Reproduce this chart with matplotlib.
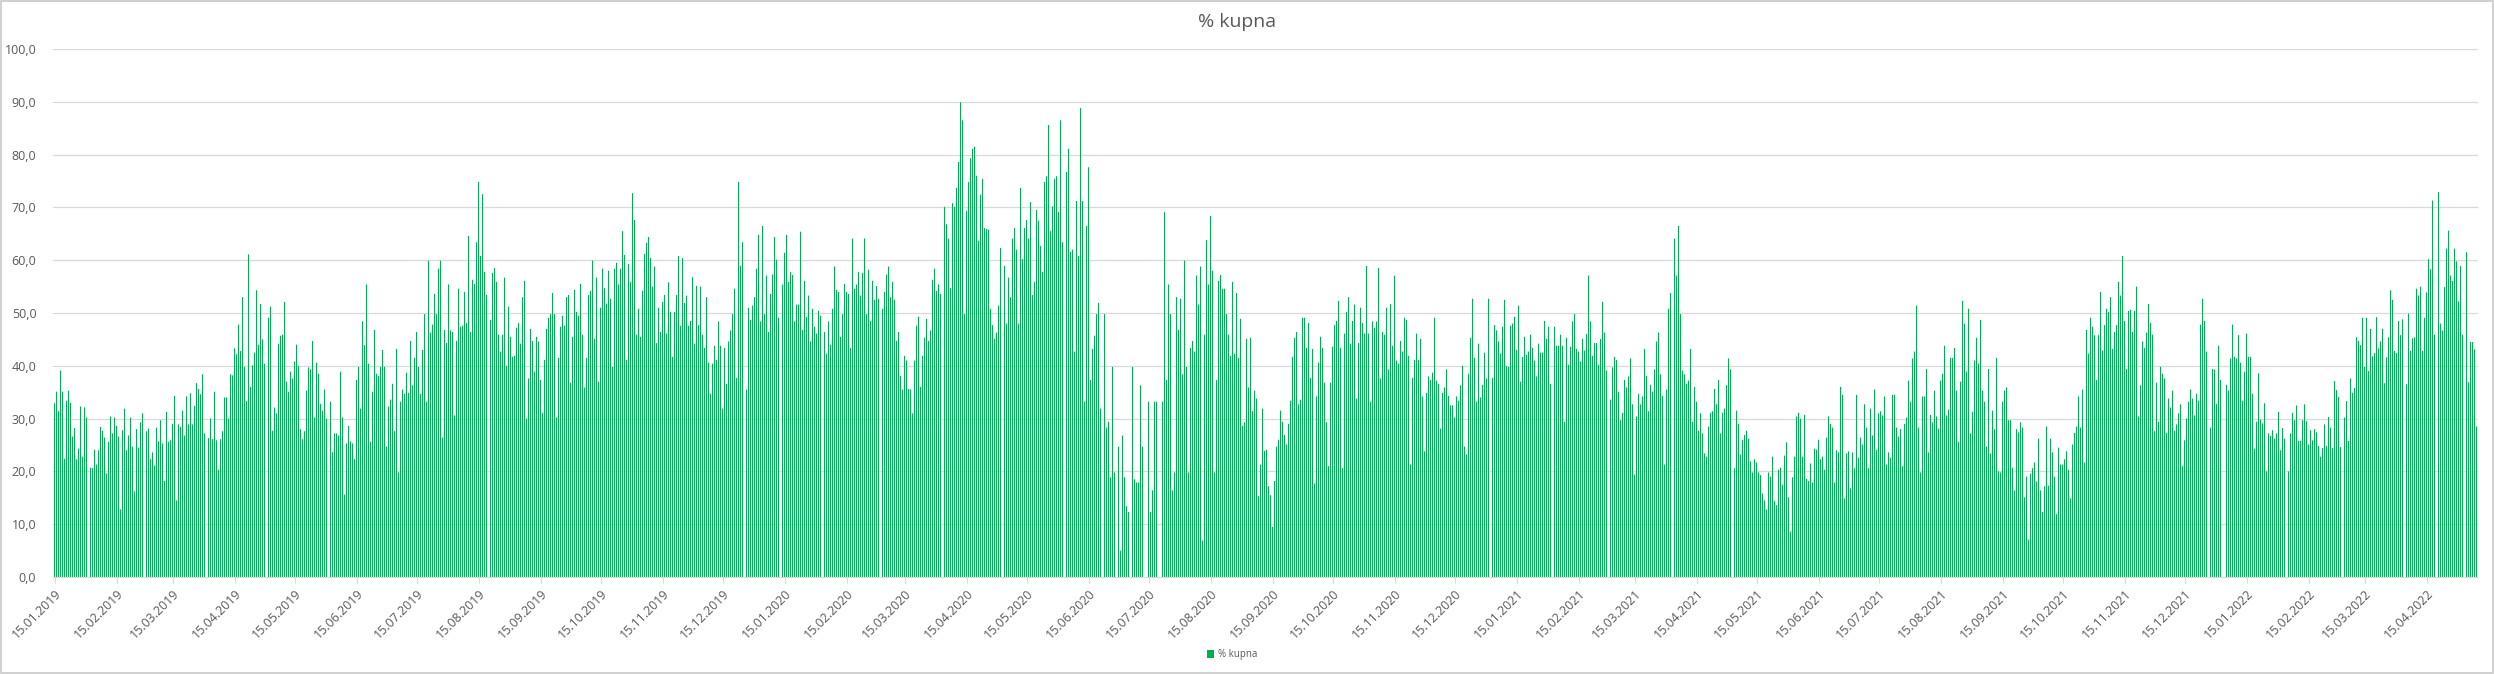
import numpy as np
import pandas as pd
import matplotlib
matplotlib.use("Agg")
import matplotlib.pyplot as plt
from matplotlib.patches import Rectangle
from matplotlib.ticker import FuncFormatter

plt.rcParams["font.family"] = ["Open Sans", "DejaVu Sans"]

nan = np.nan
GREEN = "#00B050"; GRID = "#d9d9d9"; TXT = "#595959"

# daily "% kupna" from 15.01.2019; nan = day without a bar
seg01 = [32.9, 35.1, 31.4, 39.1, 35.1, 22.4, 33.4, 35.3, 33.0, 26.6, 28.2, 22.3, 24.3, 32.3, 22.8, 32.1, 30.2, nan,
         20.7, 20.6, 24.1, 21.3, 24.0, 28.4, 27.7, 26.4, 19.6, 25.6, 30.4, 27.2, 30.2, 28.6, 26.6, 12.8, 27.8, 31.9,
         24.0, 26.8, 30.2, 24.7, 16.2, 28.0, 24.5, 29.3, 31.0, nan,
         27.6, 28.1, 22.3, 23.6, 21.1, 28.3, 25.7, 29.7, 25.3, 18.2, 31.3, 25.6, 25.9, 29.0, 34.3, 14.5, 28.9, 28.4,
         31.5, 26.8, 34.2, 28.9, 34.8, 28.9, 32.4, 36.7, 35.6, 34.6, 38.4, 27.2, nan,
         26.3, 30.0, 26.1, 35.1, 25.9, 20.3, 26.1, 27.6, 34.0, 34.0, 30.0, 38.4, 38.2, 43.3, 42.2, 47.8, 42.8, 53.0,
         39.8, 33.3, 61.1, 36.0, 40.1, 42.5, 54.3, 44.0]
seg02 = [51.7, 45.0, 40.4, nan, 49.1, 51.2, 27.7, 32.1, 31.0, 44.2, 45.7, 45.9, 52.1, 37.0, 35.1, 38.9, 37.6, 40.8,
         44.0, 40.0, 28.0, 26.1, 27.6, 35.3, 39.7, 39.3, 44.7, 30.2, 40.6, 38.5, 32.8, 31.5, 35.5, 30.0, nan, 33.2,
         23.6, 27.2, 27.2, 26.8, 38.9, 30.2, 15.6, 25.3, 28.6, 25.7, 25.3, 22.3, 37.3, 39.8, 31.9, 48.4, 43.9, 55.4,
         40.4, 25.6, 35.1, 46.8, 38.5, 38.1, 39.8, 43.0, 39.8, 24.7, 32.3, 33.6, 36.6, 27.6, 43.2, 19.8, 33.2, 35.5,
         34.7, 38.7, 34.9, 44.7, 36.3, 41.5, 46.4, 39.8, 34.7, 43.0, 49.8, 33.2, 59.9, 46.3, 47.8, 53.6, 49.8, 58.4,
         59.9, 26.4, 46.8, 44.3, 55.4, 46.7, 46.4, 30.6, 44.7, 54.6]
seg03 = [47.4, 47.6, 54.0, 48.1, 64.6, 46.4, 56.3, 55.5, 63.4, 74.8, 60.8, 72.5, 57.8, 53.4, nan, 48.7, 57.6, 58.5,
         55.9, 45.9, 42.7, 45.9, 56.7, 40.0, 51.2, 45.5, 41.7, 41.9, 47.2, 48.1, 44.2, 53.0, 56.1, 30.0, 37.6, 47.0,
         44.7, 38.9, 45.5, 44.6, 37.3, 31.1, 41.1, 47.0, 49.1, 49.8, 53.8, 49.8, 30.2, 41.5, 47.4, 49.5, 47.6, 53.0,
         53.4, 36.8, 45.5, 54.4, 50.2, 49.5, 55.5, 45.9, 35.9, 41.5, 53.4, 54.2, 59.9, 45.1, 56.7, 37.0, 51.0, 58.4,
         54.7, 51.8, 58.0, 52.7, 39.8, 58.4, 59.5, 55.4, 58.4, 65.5, 61.0, 41.1, 59.3, 55.9, 72.7, 67.6, 45.9, 50.8,
         45.5, 54.2, 61.2, 63.3, 64.4, 60.4, 55.0, 58.8, 44.3, 51.0]
seg04 = [46.4, 52.1, 53.4, 46.1, 55.8, 50.2, 41.7, 50.2, 53.4, 60.8, 47.6, 60.4, 51.9, 53.3, 47.6, 48.5, 56.8, 44.2,
         55.1, 47.7, 55.0, 45.9, 43.4, 53.0, 40.6, 34.7, 40.4, 43.8, 41.1, 48.4, 43.8, 31.9, 43.4, 36.6, 44.6, 46.7,
         49.8, 54.6, 37.7, 74.8, 58.9, 63.4, nan, 35.5, 51.0, 48.7, 51.4, 53.0, 58.4, 64.8, 48.4, 66.5, 49.8, 57.1,
         46.4, 53.6, 57.3, 64.4, 60.1, 49.1, nan, 55.4, 61.4, 64.8, 55.9, 57.8, 57.2, 48.4, 51.6, 51.6, 65.4, 46.8,
         56.1, 49.3, 53.3, 44.6, 50.8, 47.4, 46.1, 50.4, 49.5, nan, 46.4, 42.3, 48.4, 44.0, 50.8, 58.8, 54.4, 54.0,
         45.5, 49.8, 55.5, 54.0, 53.6, 43.4, 64.1, 54.6, 55.4, 57.8, 53.3]
seg05 = [57.6, 64.1, 49.8, 58.2, 48.5, 56.1, 52.5, 55.1, 52.7, nan, 50.8, 54.0, 57.3, 58.8, 53.0, 55.9, 52.5, 44.7,
         46.4, 38.1, 35.5, 41.9, 41.0, 35.6, 35.5, 31.0, 41.0, 47.6, 49.3, 36.0, 41.9, 45.3, 48.9, 44.7, 46.7, 56.3,
         58.4, 54.2, 55.4, 53.6, nan, 70.1, 66.8, 64.1, 54.7, 70.8, 70.1, 73.7, 78.6, 89.9, 86.5, 49.8, 69.3, 74.8,
         79.3, 81.1, 81.5, 76.0, 63.7, 72.4, 75.4, 66.1, 65.9, 65.8, 50.8, 47.7, 45.1, 46.3, 51.4, 62.3, nan, 58.9,
         48.0, 56.7, 53.0, 64.1, 66.1, 62.0, 48.0, 73.7, 60.2, 66.1, 67.6, 64.1, 71.0, 53.4, 55.9, 69.5, 67.5, 62.7,
         57.8, 74.8, 75.9, 85.6, 65.5, 70.2, 75.4, 75.9, 69.1, 86.5]
seg06 = [63.4, nan, 76.7, 81.1, 61.6, 62.0, 42.7, 71.2, 60.8, 88.8, 71.2, 33.2, 66.5, 77.6, 37.3, 43.2, 45.7, 49.8,
         51.9, 31.9, nan, 49.8, 28.3, 29.4, 18.9, 39.8, 19.8, nan, 24.7, 5.0, 26.8, 18.9, 13.4, 12.3, nan, 39.8,
         18.5, 17.9, 17.9, 36.3, 24.7, nan, nan, 33.2, 12.3, 16.4, 33.2, 33.2, nan, nan, 33.2, 69.1, 37.3, 55.4,
         49.8, 16.4, 19.8, 53.0, 46.8, 52.7, 38.4, 59.9, 39.8, 19.8, 43.4, 44.7, 42.7, 57.1, 51.6, 58.8, 6.9, 45.9,
         63.8, 55.4, 68.4, 58.0, 19.8, 37.3, 56.1, 57.2, 54.6, 54.6, 49.8, 45.9, 41.9, 55.9, 42.3, 53.8, 41.5, 48.9,
         28.6, 29.3, 45.1, 35.9, 45.3, 31.4, 35.3, 33.8, 15.3, 21.3]
seg07 = [31.9, 23.9, 24.1, 17.2, 15.5, 9.5, 18.2, 24.7, 26.0, 31.5, 29.4, 26.9, 25.1, 29.0, 33.4, 41.7, 45.3, 46.4,
         32.7, 33.6, 49.1, 49.1, 43.4, 48.1, 37.7, 43.2, 17.7, 34.2, 40.6, 45.5, 43.4, 36.8, 29.3, 21.0, 36.8, 43.6,
         47.7, 48.5, 52.3, 43.4, 20.6, 46.1, 50.2, 53.0, 44.2, 48.5, 51.6, 33.8, 44.3, 51.0, 48.1, 46.1, 58.9, 46.1,
         33.2, 48.4, 47.2, 48.4, 58.5, 37.6, 46.4, 45.9, 51.0, 39.3, 51.7, 43.8, 57.1, 41.0, 40.4, 44.7, 42.7, 49.1,
         48.7, 41.9, 21.3, 37.7, 41.1, 46.1, 41.1, 45.1, 34.2, 23.8, 34.9, 38.0, 37.3, 38.7, 49.1, 37.2, 36.6, 28.1,
         34.9, 35.9, 39.3, 34.3, 32.5, 32.5, 30.2, 34.2]
seg08 = [33.4, 36.3, 40.0, 24.7, 23.2, 38.5, 45.3, 52.7, 41.5, 33.2, 44.2, 34.0, 36.4, 42.5, 37.6, 52.7, nan, 37.7,
         47.7, 46.7, 44.6, 42.3, 47.4, 52.5, 40.0, 39.8, 47.6, 48.0, 49.3, 43.0, 51.4, 37.0, 41.7, 45.5, 42.1, 42.7,
         45.9, 43.4, 41.0, 38.0, 44.2, 42.5, 42.5, 48.5, 45.1, 47.4, 36.6, nan, 47.4, 43.8, 43.8, 45.9, 43.8, 29.4,
         45.3, 40.2, 43.6, 48.4, 49.8, 43.2, 42.7, 40.8, 45.1, 42.9, 46.0, 57.1, 48.4, 41.9, 44.3, 44.3, 40.2, 45.1,
         52.1, 46.3, 39.1, nan, 33.6, 39.7, 41.7, 41.1, 35.1, 29.7, 31.1, 37.3, 35.9, 38.0, 41.4, 32.7, 19.4, 30.4,
         34.7, 32.7, 34.2, 43.2, 38.1, 31.4, 36.4, 35.1, 39.3, 44.6]
seg09 = [46.3, 38.4, 34.3, 21.3, 35.5, 50.8, 53.8, nan, 64.1, 57.1, 66.5, 49.8, 39.1, 38.4, 36.6, 37.2, 43.2, 29.4,
         36.0, 33.2, 27.7, 31.0, 27.2, 23.4, 22.8, 28.5, 31.1, 31.4, 35.6, 32.7, 37.3, 27.2, 31.1, 31.9, 36.3, 41.4,
         39.3, nan, 20.6, 31.5, 29.0, 23.2, 26.0, 26.9, 27.7, 26.2, 21.9, 19.8, 22.3, 21.7, 19.8, 19.3, 15.8, 14.5,
         12.8, 19.8, 19.0, 22.8, 14.4, 13.6, 20.3, 20.7, 17.5, 23.0, 25.5, 15.1, 8.6, 18.9, 22.8, 30.4, 31.1, 30.0,
         22.8, 30.7, 18.6, 18.2, 21.5, 17.9, 24.3, 24.1, 26.0, 22.3, 22.8, 20.3, 26.4, 30.4, 29.0, 28.3, 17.9, 24.0,
         23.6, 36.0, 34.5, 14.9, 23.4, 23.8, 16.8, 23.6, 20.6, 34.5]
seg10 = [22.6, 26.4, 25.1, 32.7, 28.3, 20.6, 31.9, 26.8, 35.5, 24.1, 31.0, 31.4, 30.6, 34.2, 21.3, 23.6, 22.6, 34.5,
         34.5, 28.3, 26.6, 28.0, 21.0, 29.0, 30.2, 37.2, 33.2, 41.4, 42.7, 51.4, 28.3, 19.8, 34.2, 34.2, 39.4, 23.6,
         30.7, 29.3, 35.3, 30.4, 28.1, 37.2, 38.5, 43.8, 30.6, 31.7, 41.5, 41.5, 43.4, 35.3, 25.6, 37.0, 52.3, 48.0,
         38.9, 50.8, 27.2, 31.3, 41.0, 45.3, 40.4, 48.7, 35.3, 33.2, 24.7, 39.4, 23.4, 31.5, 28.0, 41.5, 20.0, 19.8,
         33.2, 35.3, 35.9, 29.7, 29.7, 20.7, 16.4, 28.0, 27.4, 29.3, 28.3, 15.1, 19.0, 7.1, 19.6, 20.6, 21.7, 18.1,
         26.2, 16.4, 12.3, 17.2, 28.5, 17.3, 26.2, 23.6, 19.0, 11.9]
seg11 = [24.5, 21.3, 21.3, 22.3, 23.8, 20.3, 14.9, 25.1, 27.3, 28.5, 34.2, 28.3, 35.5, 21.7, 46.8, 42.3, 49.1, 47.4,
         45.8, 37.3, 45.8, 54.0, 42.9, 47.7, 50.8, 50.2, 53.0, 43.2, 46.4, 47.7, 55.9, 53.3, 60.8, 48.5, 39.4, 50.4,
         50.6, 46.4, 50.4, 55.0, 30.4, 36.3, 44.6, 43.4, 46.3, 51.7, 48.1, 45.9, 27.6, 36.8, 29.4, 39.8, 38.5, 37.6,
         27.3, 33.8, 32.1, 35.3, 27.7, 28.9, 31.0, 32.7, 21.0, 25.9, 30.0, 33.2, 35.5, 33.8, 30.6, 34.7, 33.4, 47.8,
         52.7, 48.5, 42.7, nan, 28.3, 39.4, 39.3, 32.8, 43.8, 37.3, nan, nan, 36.4, 35.3, 41.4, 47.8, 41.7, 41.4,
         45.8, 40.6, 33.4, 38.9, 46.1, 41.7, 41.7, 34.7, 24.3, 29.4]
seg12 = [38.6, 29.8, 29.1, 32.9, 20.0, 27.2, 26.7, 27.8, 26.2, 27.2, 31.3, 24.0, 28.2, 26.2, nan, 20.0, 27.2, 31.1,
         29.7, 32.5, 25.8, 25.8, 29.7, 32.7, 29.5, 25.1, 27.8, 25.9, 28.0, 27.4, 24.8, 22.8, 24.4, 28.9, 24.8, 30.3,
         28.3, 24.4, 37.1, 35.4, 34.1, 24.6, nan, 30.2, 33.3, 25.8, 37.6, 34.9, 35.8, 45.4, 44.7, 43.9, 49.1, 39.8,
         49.1, 39.0, 47.0, 41.8, 42.4, 49.2, 43.3, 44.6, 47.0, 36.7, 41.6, 45.4, 54.3, 52.5, 42.8, 42.4, 48.5, 45.8,
         48.8, nan, 36.5, 49.9, 42.8, 45.2, 45.4, 54.6, 53.3, 55.0, 42.8, 49.1, 53.9, 60.2, 58.3, 71.3, 45.9, nan,
         72.9, 48.0, 46.7, 54.9, 62.2, 65.6, 57.1, 56.1, 62.2, 59.8, 52.2, 58.9, 45.9, nan, 61.5, 36.9, 44.5, 44.5,
         43.1, 28.5]

kupna = np.array(seg01 + seg02 + seg03 + seg04 + seg05 + seg06 + seg07 + seg08 + seg09 + seg10 + seg11 + seg12)
dates = pd.date_range("2019-01-15", periods=len(kupna), freq="D")
x = np.arange(len(kupna))
ok = ~np.isnan(kupna)

# monthly ticks on the 15th
tick_dates = pd.date_range("2019-01-01", dates[-1], freq="MS") + pd.Timedelta(days=14)
tick_dates = tick_dates[(tick_dates >= dates[0]) & (tick_dates <= dates[-1])]
tick_pos = (tick_dates - dates[0]).days

W, H = 2494, 674
PX_PER_DAY = 2  # one bar 1 px wide, 1 px gap
fig = plt.figure(figsize=(W / 100, H / 100), dpi=100)
fig.patch.set_facecolor("white")
ax_w = (len(kupna) + 0.5) * PX_PER_DAY
ax = fig.add_axes([53 / W, (H - 577) / H, ax_w / W, (577 - 49) / H])

ax.bar(x[ok], kupna[ok], width=0.5, color=GREEN, linewidth=0, snap=False, label="% kupna")
ax.set_xlim(-0.75, len(kupna) - 0.25)
ax.set_ylim(0, 100)
ax.set_yticks(np.arange(0, 101, 10))
ax.yaxis.set_major_formatter(FuncFormatter(lambda v, p: f"{v:.1f}".replace(".", ",")))
ax.grid(axis="y", color=GRID, lw=0.9)
ax.set_axisbelow(True)
for s in ["left", "top", "right"]:
    ax.spines[s].set_visible(False)
ax.spines["bottom"].set_color(GRID)
ax.tick_params(axis="y", length=0, pad=12, labelsize=9, labelcolor=TXT)
ax.tick_params(axis="x", length=4, color=GRID, labelsize=9, labelcolor=TXT, pad=3)
ax.set_xticks(tick_pos)
ax.set_xticklabels([d.strftime("%d.%m.%Y") for d in tick_dates], rotation=45, ha="right",
                   rotation_mode="anchor")

fig.text(0.496, 1 - 22 / H, "% kupna", fontsize=14, color=TXT, ha="center", va="center")
fig.legend(loc="center", bbox_to_anchor=(0.494, 1 - 655 / H), fontsize=7, frameon=False,
           handlelength=0.8, handleheight=0.8, handletextpad=0.4, labelcolor=TXT)
fig.patches.append(Rectangle((0.0005, 0.0015), 0.999, 0.997, transform=fig.transFigure,
                             fill=False, ec="#c8c8c8", lw=1.2))

fig.savefig("out.png", dpi=100)
